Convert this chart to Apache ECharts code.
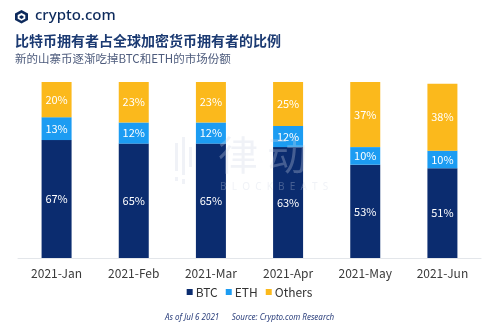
<!DOCTYPE html>
<html><head><meta charset="utf-8">
<script src="https://cdn.jsdelivr.net/npm/echarts@6/dist/echarts.min.js"></script>
<style>html,body{margin:0;padding:0;background:#fff}#c{width:499px;height:333px}</style>
</head><body><div id="c"></div>
<script>
const categories = ['2021-Jan','2021-Feb','2021-Mar','2021-Apr','2021-May','2021-Jun'];
const btc = [67, 65, 65, 63, 53, 51];
const eth = [13, 12, 12, 12, 10, 10];
const others = [20, 23, 23, 25, 37, 38];
const seriesNames = ['BTC','ETH','Others'];
const colors = ['#0b2c6f','#1c9cf2','#fbb91c'];
const font = '"Noto Sans CJK SC","Noto Sans",sans-serif';

const chart = echarts.init(document.getElementById('c'));
const mk = (name, data, color) => ({
  name, type: 'bar', stack: 'total', data, barWidth: 30,
  itemStyle: { color },
  label: { show: true, position: 'inside', formatter: '{c}%', color: '#fff', fontSize: 11, fontFamily: font }
});
const wm = 'rgba(205,213,230,0.30)';
chart.setOption({
  animation: false,
  color: colors,
  textStyle: { fontFamily: font },
  grid: { left: 18, right: 18, top: 82, bottom: 75 },
  xAxis: {
    type: 'category', data: categories,
    axisLine: { lineStyle: { color: '#e3e6ea' } },
    axisTick: { show: false },
    axisLabel: { color: '#3a3a3a', fontSize: 12, margin: 9, fontFamily: font }
  },
  yAxis: { type: 'value', min: 0, max: 100, show: false, splitLine: { show: false } },
  legend: {
    data: seriesNames, bottom: 30, left: 'center', itemWidth: 6, itemHeight: 6, itemGap: 8,
    icon: 'rect', textStyle: { color: '#333', fontSize: 12, fontFamily: font, padding: [0,0,0,-2] }
  },
  series: [mk('BTC', btc, colors[0]), mk('ETH', eth, colors[1]), mk('Others', others, colors[2])],
  graphic: [
    { type: 'group', left: 15, top: 10, children: [
      { type: 'polygon', shape: { points: [[6.5,0],[13,3.5],[13,10],[6.5,13.5],[0,10],[0,3.5]] }, style: { fill: '#0d2a5c' } },
      { type: 'polygon', shape: { points: [[6.5,3],[10.3,5],[10.3,8.8],[6.5,10.8],[2.7,8.8],[2.7,5]] }, style: { fill: '#fff' } },
      { type: 'polygon', shape: { points: [[6.5,5.2],[8.5,6.3],[8.5,7.8],[6.5,9],[4.5,7.8],[4.5,6.3]] }, style: { fill: '#0d2a5c' } }
    ]},
    { type: 'text', left: 35, top: 8, style: { text: 'crypto.com', fill: '#0d2a5c', font: '500 15px "Noto Sans",sans-serif' } },
    { type: 'text', left: 15, top: 34, style: { text: '比特币拥有者占全球加密货币拥有者的比例', fill: '#1b3a72', font: 'bold 14px "Noto Sans CJK SC",sans-serif' } },
    { type: 'text', left: 15, top: 53, style: { text: '新的山寨币逐渐吃掉BTC和ETH的市场份额', fill: '#4d5b7c', font: '11.5px "Noto Sans CJK SC",sans-serif' } },
    { type: 'group', z: 100, left: 175, top: 137, children: [
      { type: 'rect', shape: { x: 0, y: 6, width: 3, height: 28 }, style: { fill: wm } },
      { type: 'rect', shape: { x: 7, y: 0, width: 3, height: 38 }, style: { fill: wm } },
      { type: 'rect', shape: { x: 14, y: 10, width: 3, height: 20 }, style: { fill: wm } },
      { type: 'rect', shape: { x: 0, y: 40, width: 3, height: 4 }, style: { fill: wm } },
      { type: 'rect', shape: { x: 7, y: 42, width: 3, height: 5 }, style: { fill: wm } }
    ]},
    { type: 'text', z: 100, left: 218, top: 135, style: { text: '律 动', fill: wm, font: '40px "Noto Sans CJK SC",sans-serif' } },
    { type: 'text', z: 100, left: 220, top: 182, style: { text: 'B  L  O  C  K  B  E  A  T  S', fill: wm, font: '10px "Noto Sans",sans-serif' } },
    { type: 'text', left: 165, top: 314, style: { text: 'As of Jul 6 2021      Source: Crypto.com Research', fill: '#2b3f7c', font: 'italic 8px "Noto Sans",sans-serif' } }
  ]
});
</script></body></html>
